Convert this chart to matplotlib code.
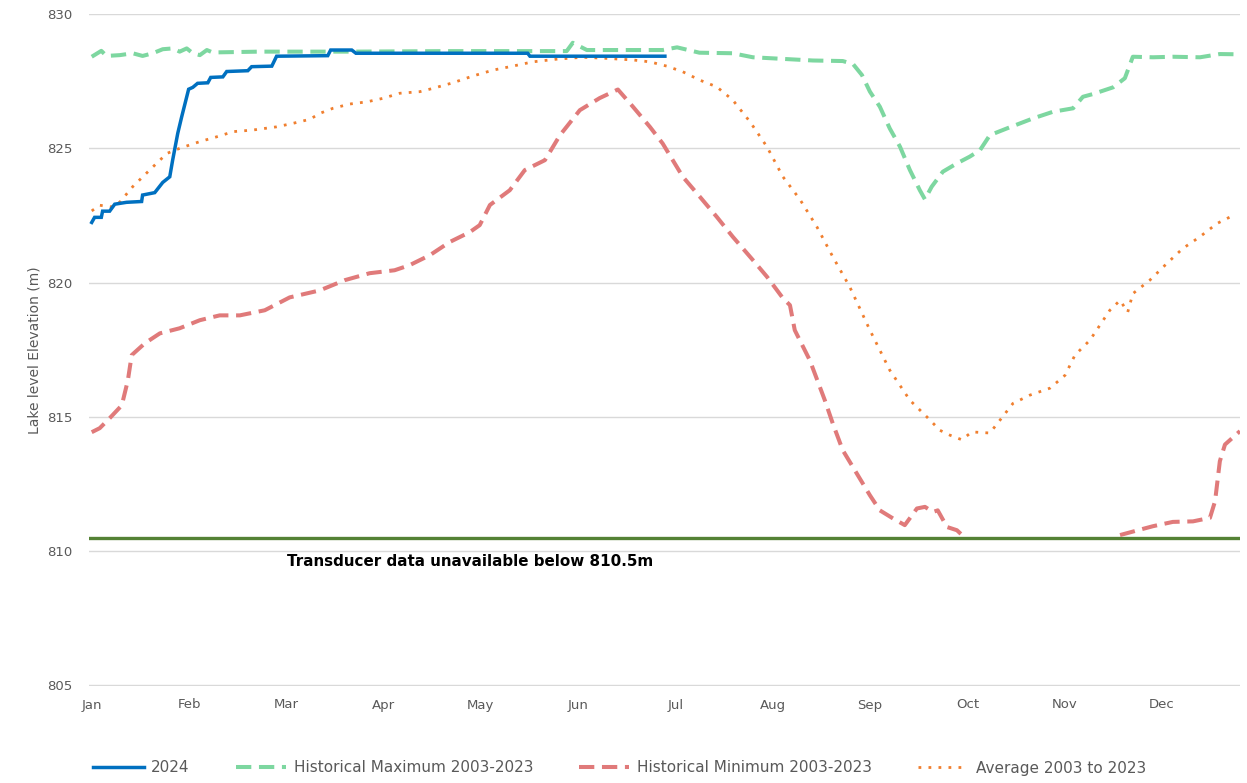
import matplotlib
matplotlib.use("Agg")
import matplotlib.pyplot as plt
import numpy as np

months = ["Jan", "Feb", "Mar", "Apr", "May", "Jun", "Jul", "Aug", "Sep", "Oct", "Nov", "Dec"]
month_pos = [i * 365 / 12 for i in range(12)]

# 2024
d2024 = [0, 0.9, 3, 3.4, 5.6, 7.2, 10.9, 15.6, 15.9, 19.7, 22.2, 24.4, 25.3, 26.9, 28.1, 30.3, 31.6, 33.1,
         36.3, 37.2, 41, 42.2, 48.8, 50, 56.3, 57.8, 73.8, 74.7, 81.3, 82.6, 136.3, 137, 179.2]
v2024 = [822.24, 822.43, 822.43, 822.66, 822.66, 822.92, 822.99, 823.02, 823.26, 823.35, 823.73, 823.94,
         824.56, 825.56, 826.16, 827.2, 827.27, 827.42, 827.44, 827.64, 827.66, 827.86, 827.89, 828.04,
         828.06, 828.43, 828.45, 828.66, 828.66, 828.54, 828.54, 828.43, 828.43]

# Historical maximum 2003-2023
dmax = [0, 3.0, 4.6, 8.8, 12.8, 15.9, 19.1, 22.2, 25.3, 27.5, 29.7, 31.6, 33.8, 36.0, 37.8, 52.5, 80.7, 112,
        148.5, 150.4, 154.8, 178.5, 183, 190, 200.4, 206.7, 225.5, 234.8, 238, 240.8, 243.3, 246.4, 249.5,
        252.7, 255.8, 258.9, 260.5, 262.6, 266.1, 270.5, 274.5, 277.7, 280.8, 286.1, 294.2, 300.5, 306.8,
        309.9, 313, 319.3, 323, 325.5, 331.8, 338, 346.5, 352.7, 359]
vmax = [828.41, 828.63, 828.44, 828.47, 828.54, 828.44, 828.54, 828.69, 828.72, 828.6, 828.72, 828.54,
        828.47, 828.66, 828.57, 828.6, 828.6, 828.62, 828.62, 828.93, 828.66, 828.66, 828.76, 828.56,
        828.54, 828.39, 828.27, 828.25, 828.14, 827.73, 827.11, 826.55, 825.74, 825.06, 824.19, 823.44,
        823.1, 823.57, 824.13, 824.44, 824.69, 824.93, 825.49, 825.74, 826.11, 826.36, 826.49, 826.92,
        827.02, 827.27, 827.61, 828.41, 828.39, 828.41, 828.39, 828.51, 828.5]

# Historical minimum 2003-2023 (no data below 810.5 m)
dmin = [0, 2.5, 5.6, 9.4, 11.3, 12.5, 16.6, 21.3, 27.5, 33.8, 40, 46.3, 54.1, 61.9, 71.3, 79.1, 86.9, 94.7,
        99.4, 105.7, 111.9, 118.2, 121.3, 124.5, 130.7, 135.4, 141.7, 146.4, 152.6, 158.8, 164.5, 169.2,
        174.5, 178.5, 184.8, 190.1, 195.4, 200.4, 206.7, 211.1, 216.1, 218.3, 219.8, 224.5, 229.2, 231.7,
        234.8, 239.2, 243.3, 246.4, 250.5, 254.2, 258, 260.5, 263, 264.5, 267.4, 270.5, 273, 297,
        321.5, 327.7, 331.8, 338, 344.3, 349.6, 351.2, 352.7, 354.3, 359]
vmin = [814.43, 814.58, 814.95, 815.43, 816.36, 817.3, 817.74, 818.11, 818.3, 818.6, 818.78, 818.78, 818.97,
        819.45, 819.71, 820.09, 820.35, 820.46, 820.65, 821.02, 821.51, 821.88, 822.14, 822.89, 823.44,
        824.19, 824.56, 825.49, 826.42, 826.87, 827.19, 826.55, 825.8, 825.18, 823.94, 823.2, 822.45,
        821.71, 820.84, 820.22, 819.42, 819.16, 818.23, 817.11, 815.62, 814.75, 813.76, 812.89, 812.08,
        811.52, 811.22, 810.97, 811.59, 811.65, 811.46, 811.52, 810.9, 810.78, 810.5, np.nan,
        810.6, 810.8, 810.93, 811.09, 811.11, 811.24, 811.86, 813.35, 813.97, 814.47]

# Average 2003 to 2023
davg = [0, 2.5, 6.2, 8.8, 12.8, 18.1, 23.5, 27.5, 33.8, 40, 44.1, 50.3, 57.8, 62.9, 68.2, 71.3, 75.4, 80.7,
        86, 91, 96.3, 102.6, 106.6, 112.9, 119.1, 125.4, 131.6, 137.9, 145.4, 153.5, 161, 169.2, 174.5,
        179.8, 184.8, 190.1, 195.4, 200.4, 205.8, 211.1, 216.1, 221.4, 226.7, 231.7, 237, 243.3, 249.5,
        255.8, 261.1, 265.2, 268.3, 272, 275.2, 280.8, 283.9, 288, 293.3, 299.6, 304.3, 307.4, 312.1,
        318.3, 321.5, 323.9, 325.5, 330.8, 336.1, 341.1, 346.5, 351.8, 356.5]
vavg = [822.67, 822.88, 822.82, 823.0, 823.57, 824.19, 824.81, 825.0, 825.25, 825.46, 825.62, 825.68, 825.8,
        825.93, 826.08, 826.3, 826.49, 826.65, 826.73, 826.86, 827.05, 827.11, 827.23, 827.44, 827.69,
        827.91, 828.06, 828.22, 828.32, 828.39, 828.35, 828.29, 828.22, 828.06, 827.85, 827.54, 827.29,
        826.8, 825.99, 825.06, 823.94, 823.1, 822.08, 820.96, 819.84, 818.23, 816.74, 815.62, 815.0,
        814.5, 814.32, 814.15, 814.44, 814.4, 814.87, 815.5, 815.81, 816.07, 816.55, 817.3, 817.86,
        818.97, 819.34, 818.9, 819.59, 820.09, 820.71, 821.27, 821.71, 822.2, 822.48]

threshold = 810.5
yticks = [805, 810, 815, 820, 825, 830]

W, H = 1247, 783
fig = plt.figure(figsize=(W / 100, H / 100), dpi=100)
ax = fig.add_axes([89 / W, 1 - 686 / H, (1240 - 89) / W, (686 - 13.5) / H])

ax.set_xlim(-0.85, 359)
ax.set_ylim(804.98, 830.02)
ax.set_yticks(yticks)
ax.set_xticks(month_pos)
ax.set_xticklabels(months)
ax.grid(axis="y", color="#d9d9d9", linewidth=1.0)
ax.set_axisbelow(True)
for s in ax.spines.values():
    s.set_visible(False)
ax.tick_params(axis="both", length=0, labelsize=9.5, labelcolor="#595959")
ax.tick_params(axis="y", pad=12)
ax.tick_params(axis="x", pad=9)
ax.set_ylabel("Lake level Elevation (m)", fontsize=10, color="#595959", labelpad=4)

ax.axhline(threshold, color="#548235", linewidth=2.4, zorder=2)

l_max, = ax.plot(dmax, vmax, color="#7dd7a0", linewidth=2.9, dashes=(3.8, 1.9),
                 label="Historical Maximum 2003-2023", zorder=3)
l_min, = ax.plot(dmin, vmin, color="#e07a7a", linewidth=2.9, dashes=(3.8, 1.9),
                 label="Historical Minimum 2003-2023", zorder=3)
l_avg, = ax.plot(davg, vavg, color="#f07f2f", linewidth=2.0, dashes=(1.0, 2.6),
                 label="Average 2003 to 2023", zorder=3)
l_24, = ax.plot(d2024, v2024, color="#0070c0", linewidth=2.5, label="2024", zorder=4,
                solid_joinstyle="miter")

ax.text(61, 809.6, "Transducer data unavailable below 810.5m", fontsize=10.9,
        fontweight="bold", color="black", va="center", ha="left")

fig.legend(handles=[l_24, l_max, l_min, l_avg], loc="center", bbox_to_anchor=(0.497, 1 - 768 / H),
           ncol=4, frameon=False, fontsize=11, handlelength=3.3, columnspacing=3.0,
           handletextpad=0.5, labelcolor="#595959")

fig.savefig("out.png", dpi=100)
